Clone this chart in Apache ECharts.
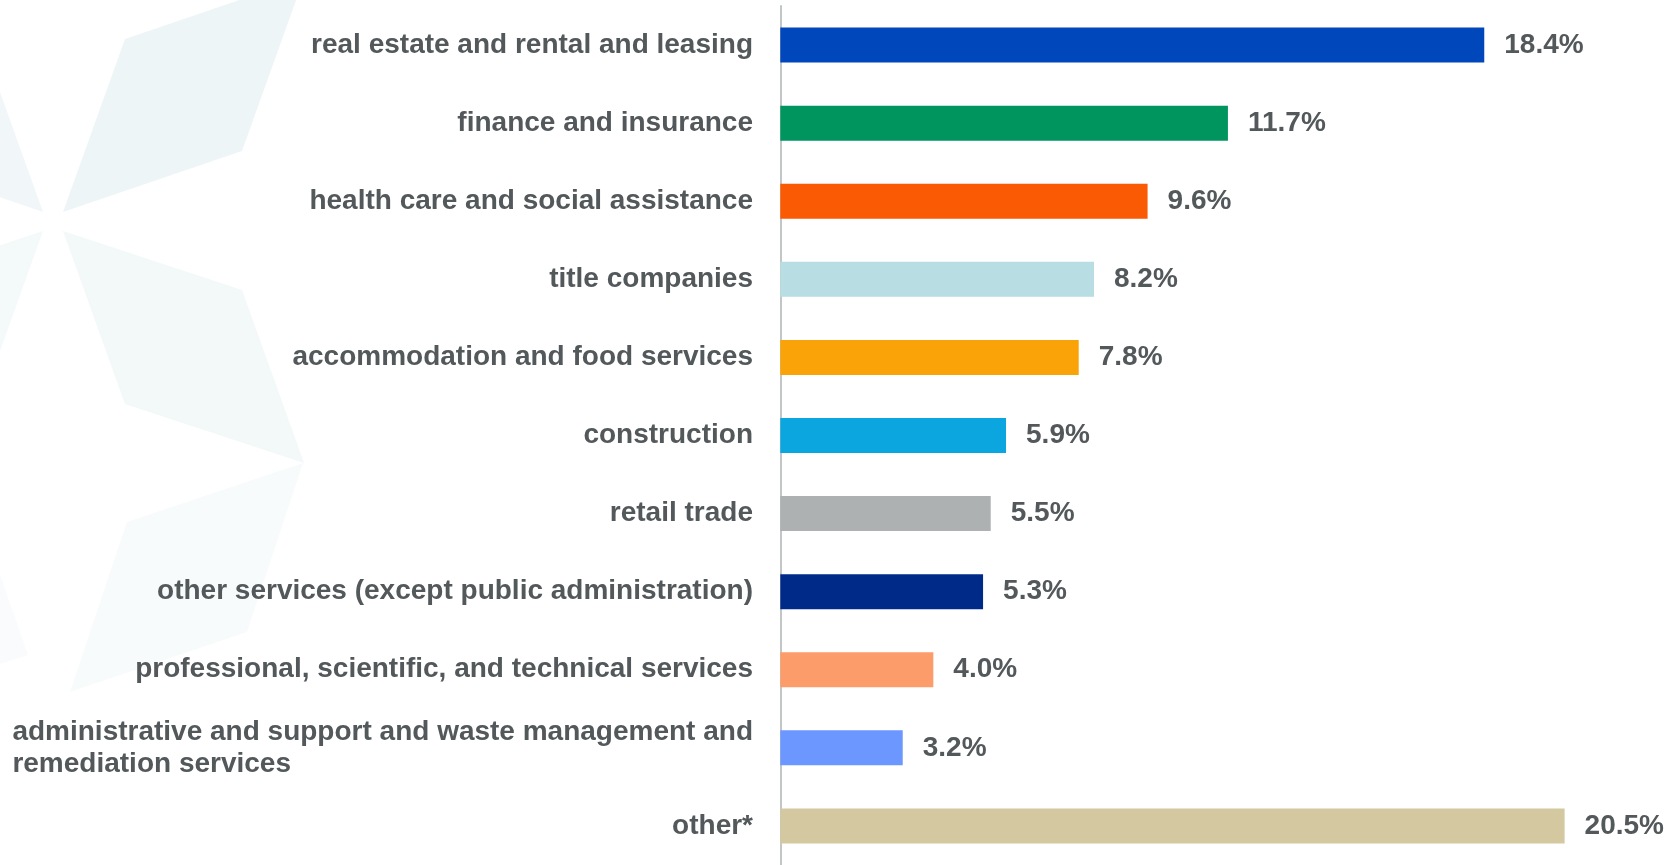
<!DOCTYPE html>
<html>
<head>
<meta charset="utf-8">
<title>Industry share</title>
<script src="https://cdn.jsdelivr.net/npm/echarts@6/dist/echarts.min.js"></script>
<style>
  html, body { margin: 0; padding: 0; background: #ffffff; }
  #chart { width: 1678px; height: 865px; }
</style>
</head>
<body>
<div id="chart"></div>
<script>
// Industries, top to bottom
const categories = [
  'real estate and rental and leasing',
  'finance and insurance',
  'health care and social assistance',
  'title companies',
  'accommodation and food services',
  'construction',
  'retail trade',
  'other services (except public administration)',
  'professional, scientific, and technical services',
  'administrative and support and waste management and\nremediation services',
  'other*'
];

// Share of total, percent
const shares = [18.4, 11.7, 9.6, 8.2, 7.8, 5.9, 5.5, 5.3, 4.0, 3.2, 20.5];

// One fill per industry
const barColors = [
  '#0047bb', '#00955f', '#fb5a05', '#b8dde2', '#f9a308', '#0ba6df',
  '#adb1b1', '#002a88', '#fc9c6a', '#6b97fe', '#d4c8a0'
];

const TEXT = '#53585b';
const FONT = '"Liberation Sans", Arial, Helvetica, sans-serif';

const chart = echarts.init(document.getElementById('chart'), null, { renderer: 'canvas' });

// Faint star watermark behind the labels
const star = [
  { pts: [[63, 212], [125, 39], [304, -22], [242, 151]], fill: '#eef5f7' },
  { pts: [[63, 231], [125, 404], [304, 463], [242, 290]], fill: '#f3f8f9' },
  { pts: [[43, 212], [-19, 39], [-198, -22], [-136, 151]], fill: '#f1f7f8' },
  { pts: [[43, 231], [-19, 404], [-198, 463], [-136, 290]], fill: '#f4f9fa' },
  { pts: [[303, 463], [127, 522], [70, 692], [247, 632]], fill: '#f8fbfb' },
  { pts: [[0, 575], [28, 655], [0, 664]], fill: '#f9fbfc' }
];

chart.setOption({
  backgroundColor: '#ffffff',
  animation: false,
  graphic: star.map(s => ({
    type: 'polygon',
    silent: true,
    z: -10,
    shape: { points: s.pts },
    style: { fill: s.fill }
  })),
  grid: { left: 778, right: 56, top: 6, bottom: -5, containLabel: false },
  xAxis: {
    type: 'value',
    // a sliver below zero leaves a small gap between the axis line and the bars
    min: -0.06,
    max: 22,
    show: false
  },
  yAxis: {
    type: 'category',
    data: categories,
    inverse: true,
    axisLine: { show: true, lineStyle: { color: '#c3c6c6', width: 2 } },
    axisTick: { show: false },
    splitLine: { show: false },
    axisLabel: {
      margin: 25,
      color: TEXT,
      fontSize: 28,
      fontWeight: 'bold',
      fontFamily: FONT,
      lineHeight: 32,
      formatter: function (v) {
        if (v.indexOf('\n') < 0) return v;
        return v.split('\n').map(line => '{w|' + line + '}').join('\n');
      },
      rich: {
        w: {
          align: 'left',
          color: TEXT,
          fontSize: 28,
          fontWeight: 'bold',
          fontFamily: FONT,
          lineHeight: 32
        }
      }
    }
  },
  series: [{
    type: 'bar',
    data: shares.map((v, i) => ({ value: v, itemStyle: { color: barColors[i] } })),
    barWidth: 35,
    label: {
      show: true,
      position: 'right',
      distance: 20,
      color: TEXT,
      fontSize: 28,
      fontWeight: 'bold',
      fontFamily: FONT,
      formatter: p => p.value.toFixed(1) + '%'
    }
  }]
});
</script>
</body>
</html>
